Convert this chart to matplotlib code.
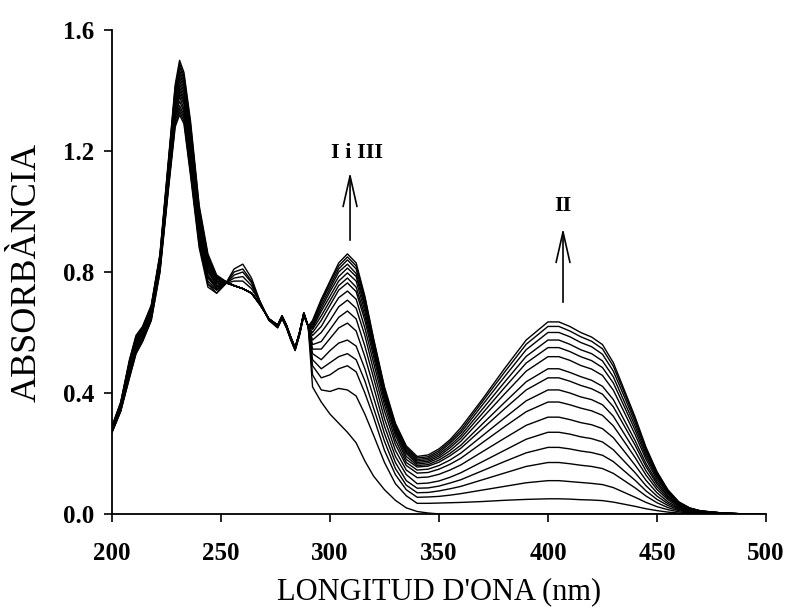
import numpy as np
import matplotlib
matplotlib.use('Agg')
import matplotlib.pyplot as plt

plt.rcParams['font.family'] = ['Liberation Serif', 'DejaVu Serif']

# wavelength grid (nm), split by region
wl_a = [200, 204, 208, 211, 214, 218, 222, 226, 229, 231, 233, 236, 240, 244, 248]
wl_b = [252, 256, 260, 264, 268, 272, 276, 278, 280, 282, 284, 286, 288]
wl_c = [290, 292, 296, 300, 304, 308, 312, 316, 320, 325, 330, 335, 340]
wl_d = [345, 350, 355, 360, 370, 380, 390, 400, 405, 410, 415, 420, 425, 430,
        435, 440, 445, 450, 455, 460, 465, 470, 480, 490, 500]

# absorbance, one row per spectrum (first -> last of the titration)
abs_a = [
    [0.27, 0.34, 0.45, 0.53, 0.57, 0.64, 0.80, 1.08, 1.28, 1.32, 1.29, 1.12, 0.88, 0.75, 0.73],
    [0.27, 0.34, 0.45, 0.53, 0.57, 0.64, 0.80, 1.09, 1.29, 1.33, 1.30, 1.13, 0.89, 0.76, 0.73],
    [0.27, 0.34, 0.46, 0.54, 0.58, 0.65, 0.81, 1.09, 1.30, 1.34, 1.31, 1.14, 0.90, 0.76, 0.74],
    [0.27, 0.35, 0.46, 0.54, 0.58, 0.65, 0.81, 1.10, 1.31, 1.35, 1.32, 1.15, 0.91, 0.77, 0.74],
    [0.275, 0.35, 0.465, 0.545, 0.58, 0.65, 0.815, 1.105, 1.315, 1.365, 1.33, 1.165, 0.915, 0.78, 0.745],
    [0.276, 0.35, 0.47, 0.55, 0.585, 0.655, 0.82, 1.11, 1.32, 1.38, 1.34, 1.18, 0.925, 0.785, 0.75],
    [0.278, 0.35, 0.47, 0.55, 0.59, 0.66, 0.82, 1.12, 1.33, 1.39, 1.355, 1.19, 0.93, 0.79, 0.75],
    [0.28, 0.355, 0.475, 0.555, 0.59, 0.66, 0.825, 1.125, 1.34, 1.40, 1.365, 1.20, 0.94, 0.80, 0.755],
    [0.28, 0.355, 0.48, 0.56, 0.595, 0.665, 0.83, 1.13, 1.35, 1.41, 1.375, 1.21, 0.95, 0.805, 0.76],
    [0.281, 0.357, 0.484, 0.564, 0.598, 0.668, 0.834, 1.136, 1.359, 1.421, 1.386, 1.221, 0.959, 0.812, 0.764],
    [0.283, 0.359, 0.488, 0.568, 0.601, 0.671, 0.838, 1.143, 1.368, 1.433, 1.396, 1.233, 0.968, 0.819, 0.768],
    [0.284, 0.361, 0.491, 0.571, 0.604, 0.674, 0.841, 1.149, 1.376, 1.444, 1.407, 1.244, 0.976, 0.826, 0.771],
    [0.285, 0.362, 0.495, 0.575, 0.608, 0.678, 0.845, 1.155, 1.385, 1.455, 1.418, 1.255, 0.985, 0.833, 0.775],
    [0.286, 0.364, 0.499, 0.579, 0.611, 0.681, 0.849, 1.161, 1.394, 1.466, 1.428, 1.266, 0.994, 0.839, 0.779],
    [0.288, 0.366, 0.503, 0.583, 0.614, 0.684, 0.853, 1.168, 1.403, 1.478, 1.439, 1.278, 1.003, 0.846, 0.783],
    [0.289, 0.368, 0.506, 0.586, 0.617, 0.687, 0.856, 1.174, 1.411, 1.489, 1.449, 1.289, 1.011, 0.853, 0.786],
    [0.29, 0.37, 0.51, 0.59, 0.62, 0.69, 0.86, 1.18, 1.42, 1.50, 1.46, 1.30, 1.02, 0.86, 0.79],
]

abs_b = [
    [0.76, 0.81, 0.826, 0.78, 0.70, 0.64, 0.615, 0.645, 0.615, 0.575, 0.54, 0.59, 0.655],
    [0.76, 0.80, 0.81, 0.77, 0.70, 0.64, 0.617, 0.647, 0.617, 0.577, 0.542, 0.592, 0.657],
    [0.76, 0.79, 0.80, 0.765, 0.70, 0.641, 0.618, 0.648, 0.618, 0.578, 0.543, 0.593, 0.658],
    [0.762, 0.78, 0.785, 0.755, 0.70, 0.642, 0.619, 0.649, 0.619, 0.579, 0.544, 0.594, 0.659],
    [0.762, 0.77, 0.77, 0.745, 0.70, 0.642, 0.62, 0.65, 0.62, 0.58, 0.545, 0.595, 0.66],
    [0.764, 0.755, 0.745, 0.73, 0.695, 0.643, 0.621, 0.651, 0.621, 0.581, 0.546, 0.596, 0.661],
    [0.765, 0.755, 0.745, 0.73, 0.695, 0.643, 0.621, 0.651, 0.621, 0.581, 0.546, 0.596, 0.661],
    [0.765, 0.755, 0.745, 0.73, 0.694, 0.643, 0.622, 0.652, 0.622, 0.582, 0.547, 0.597, 0.662],
    [0.766, 0.755, 0.745, 0.73, 0.694, 0.644, 0.622, 0.652, 0.622, 0.582, 0.547, 0.597, 0.662],
    [0.766, 0.755, 0.745, 0.73, 0.693, 0.644, 0.623, 0.653, 0.623, 0.583, 0.548, 0.598, 0.663],
    [0.767, 0.755, 0.745, 0.73, 0.693, 0.644, 0.623, 0.653, 0.623, 0.583, 0.548, 0.598, 0.663],
    [0.767, 0.755, 0.745, 0.73, 0.692, 0.644, 0.623, 0.653, 0.623, 0.583, 0.548, 0.598, 0.663],
    [0.768, 0.755, 0.745, 0.73, 0.692, 0.645, 0.624, 0.654, 0.624, 0.584, 0.549, 0.599, 0.664],
    [0.768, 0.755, 0.745, 0.73, 0.691, 0.645, 0.624, 0.654, 0.624, 0.584, 0.549, 0.599, 0.664],
    [0.769, 0.755, 0.745, 0.73, 0.691, 0.645, 0.625, 0.655, 0.625, 0.585, 0.55, 0.60, 0.665],
    [0.769, 0.755, 0.745, 0.73, 0.69, 0.645, 0.625, 0.655, 0.625, 0.585, 0.55, 0.60, 0.665],
    [0.77, 0.755, 0.745, 0.73, 0.69, 0.645, 0.625, 0.655, 0.625, 0.585, 0.55, 0.60, 0.665],
]

abs_c = [
    [0.62, 0.42, 0.37, 0.33, 0.30, 0.27, 0.235, 0.175, 0.125, 0.08, 0.045, 0.02, 0.008],
    [0.62, 0.46, 0.41, 0.405, 0.415, 0.41, 0.39, 0.33, 0.26, 0.17, 0.10, 0.06, 0.035],
    [0.62, 0.49, 0.45, 0.46, 0.48, 0.49, 0.47, 0.40, 0.32, 0.21, 0.13, 0.08, 0.055],
    [0.62, 0.51, 0.48, 0.50, 0.52, 0.53, 0.51, 0.44, 0.35, 0.24, 0.15, 0.095, 0.07],
    [0.62, 0.53, 0.51, 0.54, 0.565, 0.575, 0.555, 0.48, 0.385, 0.265, 0.17, 0.11, 0.085],
    [0.62, 0.545, 0.545, 0.58, 0.615, 0.631, 0.605, 0.52, 0.42, 0.29, 0.19, 0.13, 0.10],
    [0.62, 0.56, 0.57, 0.61, 0.65, 0.671, 0.645, 0.555, 0.45, 0.315, 0.21, 0.145, 0.12],
    [0.62, 0.575, 0.60, 0.64, 0.685, 0.707, 0.68, 0.59, 0.475, 0.34, 0.23, 0.16, 0.135],
    [0.62, 0.59, 0.62, 0.67, 0.715, 0.737, 0.71, 0.615, 0.50, 0.36, 0.245, 0.17, 0.145],
    [0.62, 0.60, 0.64, 0.69, 0.74, 0.764, 0.735, 0.64, 0.52, 0.375, 0.26, 0.18, 0.155],
    [0.62, 0.61, 0.655, 0.705, 0.755, 0.78, 0.75, 0.655, 0.535, 0.385, 0.27, 0.19, 0.16],
    [0.62, 0.615, 0.67, 0.72, 0.77, 0.797, 0.77, 0.67, 0.545, 0.395, 0.275, 0.20, 0.165],
    [0.62, 0.62, 0.68, 0.735, 0.785, 0.813, 0.785, 0.685, 0.555, 0.40, 0.28, 0.205, 0.17],
    [0.62, 0.625, 0.69, 0.745, 0.80, 0.826, 0.795, 0.695, 0.565, 0.405, 0.285, 0.21, 0.175],
    [0.62, 0.63, 0.70, 0.755, 0.81, 0.84, 0.81, 0.705, 0.57, 0.41, 0.29, 0.215, 0.18],
    [0.62, 0.635, 0.705, 0.765, 0.82, 0.85, 0.82, 0.715, 0.575, 0.415, 0.295, 0.22, 0.185],
    [0.62, 0.64, 0.71, 0.77, 0.83, 0.86, 0.83, 0.72, 0.58, 0.42, 0.30, 0.225, 0.19],
]

abs_d = [
    [0.003, 0, 0, 0, 0, 0, 0, 0, 0, 0, 0, 0, 0, 0, 0, 0, 0, 0, 0, 0, 0, 0, 0, 0, 0],
    [0.035, 0.036, 0.037, 0.038, 0.041, 0.045, 0.048, 0.05, 0.05, 0.049, 0.047, 0.046, 0.044,
     0.039, 0.032, 0.025, 0.017, 0.011, 0.006, 0.003, 0.002, 0.001, 0, 0, 0],
    [0.056, 0.058, 0.062, 0.067, 0.079, 0.091, 0.103, 0.11, 0.11, 0.107, 0.104, 0.101, 0.097,
     0.087, 0.071, 0.055, 0.038, 0.024, 0.014, 0.007, 0.003, 0.002, 0.001, 0, 0],
    [0.071, 0.076, 0.083, 0.091, 0.113, 0.135, 0.157, 0.17, 0.17, 0.166, 0.161, 0.157, 0.15,
     0.134, 0.11, 0.086, 0.059, 0.037, 0.021, 0.011, 0.005, 0.003, 0.001, 0, 0],
    [0.086, 0.092, 0.102, 0.113, 0.143, 0.173, 0.202, 0.22, 0.22, 0.215, 0.208, 0.203, 0.194,
     0.173, 0.142, 0.111, 0.076, 0.048, 0.028, 0.014, 0.007, 0.004, 0.001, 0, 0],
    [0.102, 0.109, 0.121, 0.136, 0.173, 0.21, 0.247, 0.27, 0.27, 0.264, 0.255, 0.249, 0.238,
     0.212, 0.174, 0.136, 0.093, 0.059, 0.034, 0.017, 0.008, 0.004, 0.001, 0, 0],
    [0.122, 0.131, 0.145, 0.162, 0.206, 0.25, 0.293, 0.32, 0.32, 0.312, 0.302, 0.295, 0.282,
     0.252, 0.207, 0.161, 0.111, 0.07, 0.04, 0.02, 0.01, 0.005, 0.002, 0, 0],
    [0.137, 0.148, 0.164, 0.184, 0.236, 0.288, 0.338, 0.37, 0.37, 0.361, 0.35, 0.341, 0.326,
     0.291, 0.239, 0.186, 0.128, 0.081, 0.047, 0.023, 0.011, 0.006, 0.002, 0, 0],
    [0.148, 0.16, 0.178, 0.201, 0.259, 0.317, 0.374, 0.41, 0.41, 0.40, 0.387, 0.378, 0.361,
     0.323, 0.265, 0.207, 0.142, 0.09, 0.052, 0.026, 0.013, 0.007, 0.002, 0, 0],
    [0.158, 0.171, 0.192, 0.217, 0.282, 0.347, 0.41, 0.45, 0.45, 0.439, 0.425, 0.414, 0.396,
     0.354, 0.291, 0.227, 0.156, 0.099, 0.057, 0.028, 0.014, 0.007, 0.002, 0, 0],
    [0.163, 0.178, 0.20, 0.227, 0.298, 0.368, 0.437, 0.48, 0.48, 0.468, 0.454, 0.442, 0.422,
     0.378, 0.31, 0.242, 0.166, 0.106, 0.06, 0.03, 0.015, 0.008, 0.002, 0, 0],
    [0.169, 0.185, 0.209, 0.24, 0.318, 0.396, 0.472, 0.52, 0.52, 0.508, 0.491, 0.479, 0.458,
     0.409, 0.336, 0.262, 0.18, 0.114, 0.066, 0.033, 0.016, 0.008, 0.003, 0, 0],
    [0.174, 0.191, 0.218, 0.25, 0.333, 0.417, 0.499, 0.55, 0.55, 0.537, 0.52, 0.507, 0.484,
     0.433, 0.355, 0.277, 0.19, 0.121, 0.069, 0.035, 0.017, 0.009, 0.003, 0, 0],
    [0.179, 0.197, 0.225, 0.259, 0.347, 0.435, 0.521, 0.575, 0.575, 0.561, 0.543, 0.53, 0.506,
     0.453, 0.371, 0.29, 0.199, 0.127, 0.072, 0.036, 0.018, 0.009, 0.003, 0, 0],
    [0.184, 0.203, 0.233, 0.268, 0.361, 0.453, 0.543, 0.60, 0.60, 0.586, 0.567, 0.553, 0.528,
     0.472, 0.388, 0.302, 0.208, 0.132, 0.076, 0.038, 0.019, 0.01, 0.003, 0, 0],
    [0.189, 0.209, 0.239, 0.276, 0.372, 0.468, 0.561, 0.62, 0.62, 0.605, 0.586, 0.571, 0.546,
     0.488, 0.401, 0.312, 0.215, 0.136, 0.078, 0.039, 0.019, 0.01, 0.003, 0, 0],
    [0.195, 0.215, 0.245, 0.285, 0.38, 0.48, 0.575, 0.635, 0.635, 0.62, 0.60, 0.585, 0.56,
     0.50, 0.41, 0.32, 0.22, 0.14, 0.08, 0.04, 0.02, 0.01, 0.003, 0, 0],
]

wl = np.array(wl_a + wl_b + wl_c + wl_d)

fig = plt.figure(figsize=(7.86, 6.14), dpi=100)
ax = fig.add_axes([0.1425, 0.163, 0.832, 0.788])

for k in range(len(abs_a)):
    a = abs_a[k] + abs_b[k] + abs_c[k] + abs_d[k]
    ax.plot(wl, a, color='black', lw=1.0)

ax.set_xlim(200, 500)
ax.set_ylim(0, 1.6)
ax.set_xticks([200, 250, 300, 350, 400, 450, 500])
ax.set_yticks([0.0, 0.4, 0.8, 1.2, 1.6])
ax.set_yticklabels(['0.0', '0.4', '0.8', '1.2', '1.6'])
for s in ['top', 'right']:
    ax.spines[s].set_visible(False)
for s in ['left', 'bottom']:
    ax.spines[s].set_linewidth(1.3)
ax.tick_params(axis='x', direction='out', length=6, width=1.2, pad=14, labelsize=18)
ax.tick_params(axis='y', direction='out', length=6, width=1.2, pad=7, labelsize=18)
for lab in ax.get_xticklabels() + ax.get_yticklabels():
    lab.set_fontweight('bold')

ax.set_xlabel("LONGITUD D'ONA (nm)", fontsize=22, labelpad=9)
ax.set_ylabel('ABSORBÀNCIA', fontsize=26, labelpad=14)

arrow = dict(arrowstyle='->,head_length=1.1,head_width=0.25', lw=1.2,
             color='black', mutation_scale=20, shrinkA=0, shrinkB=0)
ax.annotate('', xy=(309.2, 1.13), xytext=(309.2, 0.905), arrowprops=arrow)
ax.annotate('', xy=(406.9, 0.945), xytext=(406.9, 0.70), arrowprops=arrow)
ax.text(312.5, 1.193, 'I i III', ha='center', va='center', fontsize=16, fontweight='bold')
ax.text(406.9, 1.018, 'II', ha='center', va='center', fontsize=16, fontweight='bold')

fig.savefig('out.png', dpi=100)
